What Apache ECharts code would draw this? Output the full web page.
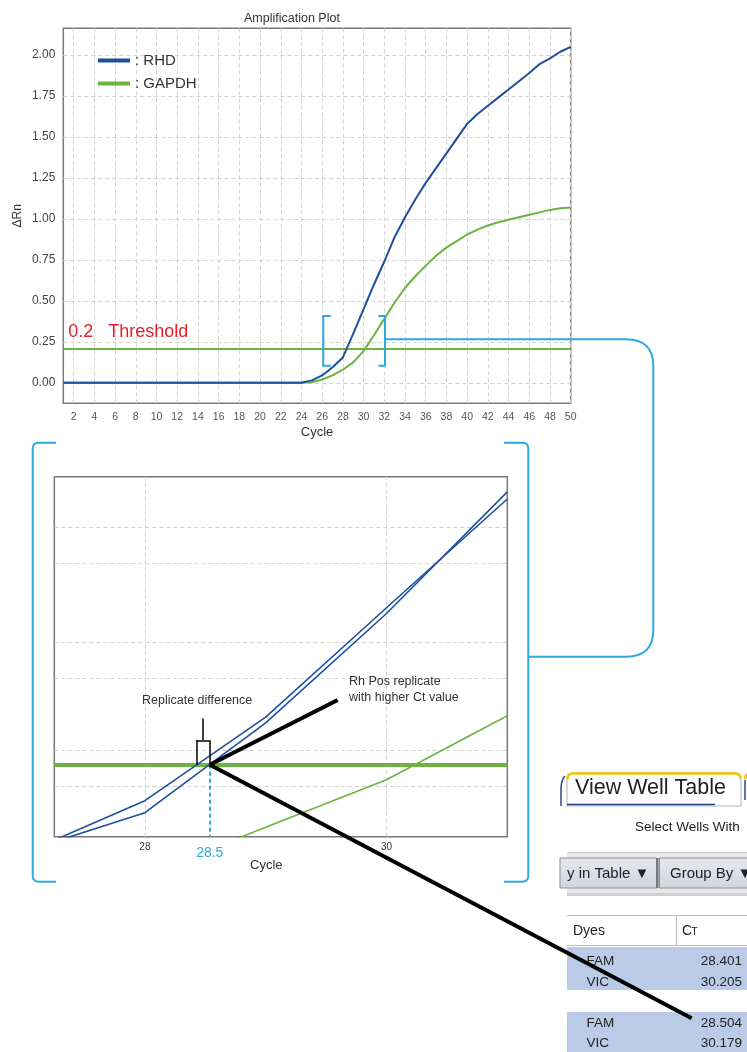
<!DOCTYPE html>
<html><head><meta charset="utf-8">
<script src="https://cdn.jsdelivr.net/npm/echarts@6/dist/echarts.min.js"></script>
<style>html,body{margin:0;padding:0;background:#fff;}#c{width:747px;height:1052px;}</style>
</head><body><div id="c"></div>
<script>
// ---------- data: amplification plot ----------
const cycles = [1,2,3,4,5,6,7,8,9,10,11,12,13,14,15,16,17,18,19,20,21,22,23,24,25,26,27,28,29,30,31,32,33,34,35,36,37,38,39,40,41,42,43,44,45,46,47,48,49,50];
const rhdValues = [0,0,0,0,0,0,0,0,0,0,0,0,0,0,0,0,0,0,0,0,0,0,0,0,0.015,0.045,0.095,0.155,0.30,0.45,0.60,0.74,0.89,1.01,1.12,1.22,1.31,1.40,1.49,1.58,1.64,1.69,1.74,1.79,1.84,1.89,1.945,1.98,2.02,2.05];
const gapdhValues = [0,0,0,0,0,0,0,0,0,0,0,0,0,0,0,0,0,0,0,0,0,0,0,0,0.004,0.02,0.045,0.08,0.125,0.195,0.29,0.39,0.49,0.58,0.65,0.715,0.775,0.825,0.865,0.905,0.935,0.96,0.98,0.995,1.01,1.025,1.04,1.055,1.065,1.07];
const xTickValues = [2,4,6,8,10,12,14,16,18,20,22,24,26,28,30,32,34,36,38,40,42,44,46,48,50];
const yTickValues = [0,0.25,0.5,0.75,1.0,1.25,1.5,1.75,2.0];
const thresholdValue = 0.21;
const thresholdText = '0.2   Threshold';

// ---------- data: zoomed view ----------
const zoomCycles = [27,28,29,30,31];
const rhdRep1 = [0.077,0.150,0.266,0.418,0.569];
const rhdRep2 = [0.0795,0.1333,0.258,0.410,0.579];
const gapdhZoomCycles = [28,29,30,31];
const gapdhZoom = [0.047,0.113,0.179,0.268];
const zoomThreshold = 0.2;
const zoomGridY = [0.1704,0.2214,0.323,0.374,0.477,0.5274];
const zoomGridX = [28,30];
const zoomXLabels = [28,30];
const rep1Ct = 28.427, rep2Ct = 28.537;
const ctLabel = '28.5';

// ---------- data: well table ----------
const tableDyes = ['FAM','VIC','FAM','VIC'];
const tableCt = ['28.401','30.205','28.504','30.179'];

const BLUE = '#1d4f9c', GREEN = '#6cb33f', CYAN = '#2ea8e0', RED = '#e2202b';
const FONT = 'Liberation Sans, Arial, sans-serif';

const pair = (xs, ys) => xs.map((x, i) => [x, ys[i]]);
const gridLine = {type: [4, 3], color: '#d2d2d2', width: 1};
const blackSeg = {type: 'solid', color: '#000', width: 1.5};

const chart = echarts.init(document.getElementById('c'));
chart.setOption({
  animation: false,
  textStyle: {fontFamily: FONT},
  title: {text: 'Amplification Plot', left: 239, top: 7, textStyle: {fontSize: 12.5, fontWeight: 'normal', color: '#333', fontFamily: FONT}},
  legend: {
    data: ['RHD', 'GAPDH'], orient: 'vertical', left: 93, top: 48, icon: 'rect',
    itemWidth: 32, itemHeight: 4, itemGap: 8, formatter: ': {name}',
    textStyle: {fontSize: 15, color: '#333', fontFamily: FONT}
  },
  grid: [
    {left: 63.3, top: 28.3, width: 507.4, height: 375, show: true, borderColor: '#7a7a7a', borderWidth: 1.5, backgroundColor: 'transparent'},
    {left: 54.3, top: 476.7, width: 453, height: 360, show: true, borderColor: '#777', borderWidth: 1.5, backgroundColor: 'transparent'}
  ],
  xAxis: [
    {gridIndex: 0, type: 'value', min: 1, max: 50, interval: 1,
     axisLine: {show: false}, axisTick: {show: false}, splitLine: {show: false},
     axisLabel: {margin: 8, fontSize: 10.5, color: '#555', formatter: v => (xTickValues.indexOf(v) >= 0 ? String(v) : '')},
     name: 'Cycle', nameLocation: 'middle', nameGap: 23, nameTextStyle: {fontSize: 13, color: '#333'}},
    {gridIndex: 1, type: 'value', min: 27.25, max: 31, interval: 0.25,
     axisLine: {show: false}, axisTick: {show: false}, splitLine: {show: false},
     axisLabel: {margin: 6, fontSize: 10, color: '#333', formatter: v => (zoomXLabels.indexOf(v) >= 0 ? String(v) : '')},
     name: 'Cycle', nameLocation: 'middle', nameGap: 22, nameTextStyle: {fontSize: 13, color: '#333', padding: [0, 29, 0, 0]}}
  ],
  yAxis: [
    {gridIndex: 0, type: 'value', min: -0.125, max: 2.163, interval: 0.125,
     axisLine: {show: false}, axisTick: {show: false}, splitLine: {show: false},
     axisLabel: {margin: 8, fontSize: 12, color: '#444',
       formatter: v => (yTickValues.some(t => Math.abs(t - v) < 1e-6) ? v.toFixed(2) : '')},
     name: 'ΔRn', nameLocation: 'middle', nameRotate: 90, nameGap: 40, nameMoveOverlap: false,
     nameTextStyle: {fontSize: 12, color: '#333'}},
    {gridIndex: 1, type: 'value', min: 0.1, max: 0.6, interval: 0.05,
     axisLine: {show: false}, axisTick: {show: false}, splitLine: {show: false}, axisLabel: {show: false}}
  ],
  series: [
    // top gridlines
    {type: 'line', xAxisIndex: 0, yAxisIndex: 0, data: [], z: 1, silent: true,
     markLine: {z: 1, silent: true, symbol: ['none', 'none'], label: {show: false}, lineStyle: gridLine,
       data: yTickValues.map(v => ({yAxis: v})).concat(xTickValues.map(v => ({xAxis: v})))}},
    // top threshold
    {type: 'line', xAxisIndex: 0, yAxisIndex: 0, data: [], z: 2, silent: true,
     markLine: {z: 2, silent: true, symbol: ['none', 'none'],
       lineStyle: {type: 'solid', color: GREEN, width: 2},
       label: {show: true, position: 'insideStartTop', distance: [5, 7], formatter: thresholdText, color: RED, fontSize: 18, fontFamily: FONT},
       data: [{yAxis: thresholdValue}]}},
    {name: 'GAPDH', type: 'line', xAxisIndex: 0, yAxisIndex: 0, data: pair(cycles, gapdhValues), z: 3,
     showSymbol: false, color: GREEN, lineStyle: {width: 2, color: GREEN}},
    {name: 'RHD', type: 'line', xAxisIndex: 0, yAxisIndex: 0, data: pair(cycles, rhdValues), z: 4,
     showSymbol: false, color: BLUE, lineStyle: {width: 2, color: BLUE}},

    // zoom gridlines
    {type: 'line', xAxisIndex: 1, yAxisIndex: 1, data: [], z: 1, silent: true,
     markLine: {z: 1, silent: true, symbol: ['none', 'none'], label: {show: false}, lineStyle: gridLine,
       data: zoomGridY.map(v => ({yAxis: v})).concat(zoomGridX.map(v => ({xAxis: v})))}},
    // zoom threshold
    {type: 'line', xAxisIndex: 1, yAxisIndex: 1, data: [], z: 2, silent: true,
     markLine: {z: 2, silent: true, symbol: ['none', 'none'], label: {show: false},
       lineStyle: {type: 'solid', color: GREEN, width: 4}, data: [{yAxis: zoomThreshold}]}},
    {name: 'GAPDH zoom', type: 'line', xAxisIndex: 1, yAxisIndex: 1, data: pair(gapdhZoomCycles, gapdhZoom), z: 3,
     showSymbol: false, lineStyle: {width: 1.6, color: GREEN}},
    {name: 'RHD rep 1', type: 'line', xAxisIndex: 1, yAxisIndex: 1, data: pair(zoomCycles, rhdRep1), z: 4,
     showSymbol: false, lineStyle: {width: 1.6, color: BLUE}},
    {name: 'RHD rep 2', type: 'line', xAxisIndex: 1, yAxisIndex: 1, data: pair(zoomCycles, rhdRep2), z: 4,
     showSymbol: false, lineStyle: {width: 1.6, color: BLUE}},
    // Ct marker and replicate difference bracket
    {type: 'line', xAxisIndex: 1, yAxisIndex: 1, data: [], z: 5, silent: true,
     markLine: {z: 5, silent: true, symbol: ['none', 'none'], label: {show: false},
       data: [
         [{coord: [rep2Ct, zoomThreshold], lineStyle: {type: [4, 3], color: CYAN, width: 2},
           label: {show: true, position: 'end', distance: 9, formatter: ctLabel, color: CYAN, fontSize: 14, fontFamily: FONT}},
          {coord: [rep2Ct, 0.1]}],
         [{coord: [rep1Ct, zoomThreshold], lineStyle: blackSeg}, {coord: [rep1Ct, 0.2338]}],
         [{coord: [rep1Ct, 0.2338], lineStyle: blackSeg}, {coord: [rep2Ct, 0.2338]}],
         [{coord: [rep2Ct, 0.2338], lineStyle: blackSeg}, {coord: [rep2Ct, zoomThreshold]}],
         [{coord: [(rep1Ct + rep2Ct) / 2, 0.2338], lineStyle: blackSeg}, {coord: [(rep1Ct + rep2Ct) / 2, 0.264]}]
       ]}}
  ]
});

// ---------- annotations (pixel layer) ----------
// tiny path helper: M/L/Q commands -> polyline points
function pts(d) {
  const tok = d.match(/[MLQ]|-?\d+(\.\d+)?/g);
  const out = []; let i = 0, cur = null, cmd = null;
  while (i < tok.length) {
    if (/[MLQ]/.test(tok[i])) { cmd = tok[i++]; continue; }
    if (cmd === 'M' || cmd === 'L') { cur = [+tok[i], +tok[i + 1]]; out.push(cur); i += 2; }
    else if (cmd === 'Q') {
      const c = [+tok[i], +tok[i + 1]], e = [+tok[i + 2], +tok[i + 3]]; i += 4;
      const s = cur;
      for (let k = 1; k <= 8; k++) {
        const t = k / 8, u = 1 - t;
        out.push([u * u * s[0] + 2 * u * t * c[0] + t * t * e[0], u * u * s[1] + 2 * u * t * c[1] + t * t * e[1]]);
      }
      cur = e;
    }
  }
  return out;
}
const txt = (text, x, y, size, extra) => Object.assign({type: 'text', x: x, y: y, z: 50,
  style: Object.assign({text: text, fontSize: size, fontFamily: FONT, fill: '#333', align: 'left', verticalAlign: 'middle'}, (extra || {}))});
const path = (d, stroke, w, z) => ({type: 'polyline', z: z || 40, shape: {points: pts(d)}, style: {stroke: stroke, fill: null, lineWidth: w}});

const g = [];
// top bracket and connector
g.push(path('M330.7,316 L323.3,316 L323.3,365.7 L330.7,365.7', CYAN, 2));
g.push(path('M378.3,316 L385,316 L385,365.7 L378.3,365.7', CYAN, 2));
g.push(path('M385,339.3 L626,339.3 Q653.3,339.3 653.3,366 L653.3,630 Q653.3,656.7 626,656.7 L528.3,656.7', CYAN, 2));
// big brackets
g.push(path('M56,442.7 L39,442.7 Q32.7,442.7 32.7,449 L32.7,875.4 Q32.7,881.7 39,881.7 L56,881.7', CYAN, 2));
g.push(path('M504,442.7 L522,442.7 Q528.3,442.7 528.3,449 L528.3,875.4 Q528.3,881.7 522,881.7 L504,881.7', CYAN, 2));
// texts in zoom
g.push(txt('Replicate difference', 142, 701, 12.5));
g.push(txt('Rh Pos replicate', 349, 682, 12.5));
g.push(txt('with higher Ct value', 349, 698, 12.5));

// well table
g.push(path('M565,776 Q561,780 561,790 L561,806', '#2a4a8a', 1.5, 30));
g.push({type: 'rect', z: 30, shape: {x: 567, y: 773, width: 174, height: 33, r: [6, 6, 0, 0]}, style: {fill: '#fff', stroke: '#a9b3c0', lineWidth: 1}});
g.push(path('M567.5,779 Q567.5,773.5 573,773.5 L735,773.5 Q740.5,773.5 740.5,779', '#f2c200', 2.5, 31));
g.push(path('M567,804.5 L715,804.5', '#24417e', 1.5, 31));
g.push(path('M745,779 Q745,774 750,774', '#f2c200', 2.5, 31));
g.push(path('M745,780 L745,800', '#2a4a8a', 1.5, 31));
g.push(txt('View Well Table', 575, 788, 21.5, {fill: '#222'}));
g.push(txt('Select Wells With', 635, 827, 13.5, {fill: '#222'}));
g.push({type: 'rect', z: 30, shape: {x: 567, y: 852, width: 180, height: 42}, style: {fill: '#e8e8e8'}});
g.push(path('M567,852.5 L747,852.5', '#c4c4c4', 1, 31));
const btnFill = () => new echarts.graphic.LinearGradient(0, 0, 0, 1, [{offset: 0, color: '#e6e9ef'}, {offset: 1, color: '#cfd5de'}]);
g.push({type: 'rect', z: 31, shape: {x: 560, y: 858, width: 96.5, height: 30}, style: {fill: btnFill(), stroke: '#8a8f98', lineWidth: 1}});
g.push({type: 'rect', z: 31, shape: {x: 659.5, y: 858, width: 95, height: 30}, style: {fill: btnFill(), stroke: '#8a8f98', lineWidth: 1}});
g.push(path('M657.5,858 L657.5,888', '#6b6f76', 2, 32));
g.push(txt('y in Table ▼', 567, 873.5, 15, {fill: '#222'}));
g.push(txt('Group By ▼', 670, 873.5, 15, {fill: '#222'}));
g.push({type: 'rect', z: 30, shape: {x: 567, y: 893, width: 180, height: 3}, style: {fill: '#cfcfcf'}});
g.push(path('M567,915.5 L747,915.5', '#bdbdbd', 1, 31));
g.push(path('M567,945.5 L747,945.5', '#bdbdbd', 1, 31));
g.push(path('M676.5,915.5 L676.5,945.5', '#bdbdbd', 1, 31));
g.push(txt('Dyes', 573, 931, 14, {fill: '#222'}));
g.push(txt('C', 682, 931, 14, {fill: '#222'}));
g.push(txt('T', 691.5, 932.5, 10, {fill: '#222'}));
g.push({type: 'rect', z: 30, shape: {x: 567, y: 947, width: 180, height: 43}, style: {fill: '#b9cbe7'}});
g.push({type: 'rect', z: 30, shape: {x: 567, y: 1012, width: 180, height: 40}, style: {fill: '#b9cbe7'}});
const rowY = [961, 982, 1023.3, 1043.7];
tableDyes.forEach((d, i) => g.push(txt(d, 586.5, rowY[i], 13.5, {fill: '#222'})));
tableCt.forEach((c, i) => g.push(txt(c, 742, rowY[i], 13.5, {fill: '#222', align: 'right'})));

// thick black pointer lines from the higher-Ct replicate crossing
const p0 = chart.convertToPixel({gridIndex: 1}, [rep2Ct, zoomThreshold]);
g.push({type: 'line', z: 100, shape: {x1: p0[0], y1: p0[1], x2: 337.7, y2: 700}, style: {stroke: '#000', lineWidth: 4}});
g.push({type: 'line', z: 100, shape: {x1: p0[0], y1: p0[1], x2: 691.7, y2: 1018.3}, style: {stroke: '#000', lineWidth: 4}});

chart.setOption({graphic: {elements: g}});
</script></body></html>
